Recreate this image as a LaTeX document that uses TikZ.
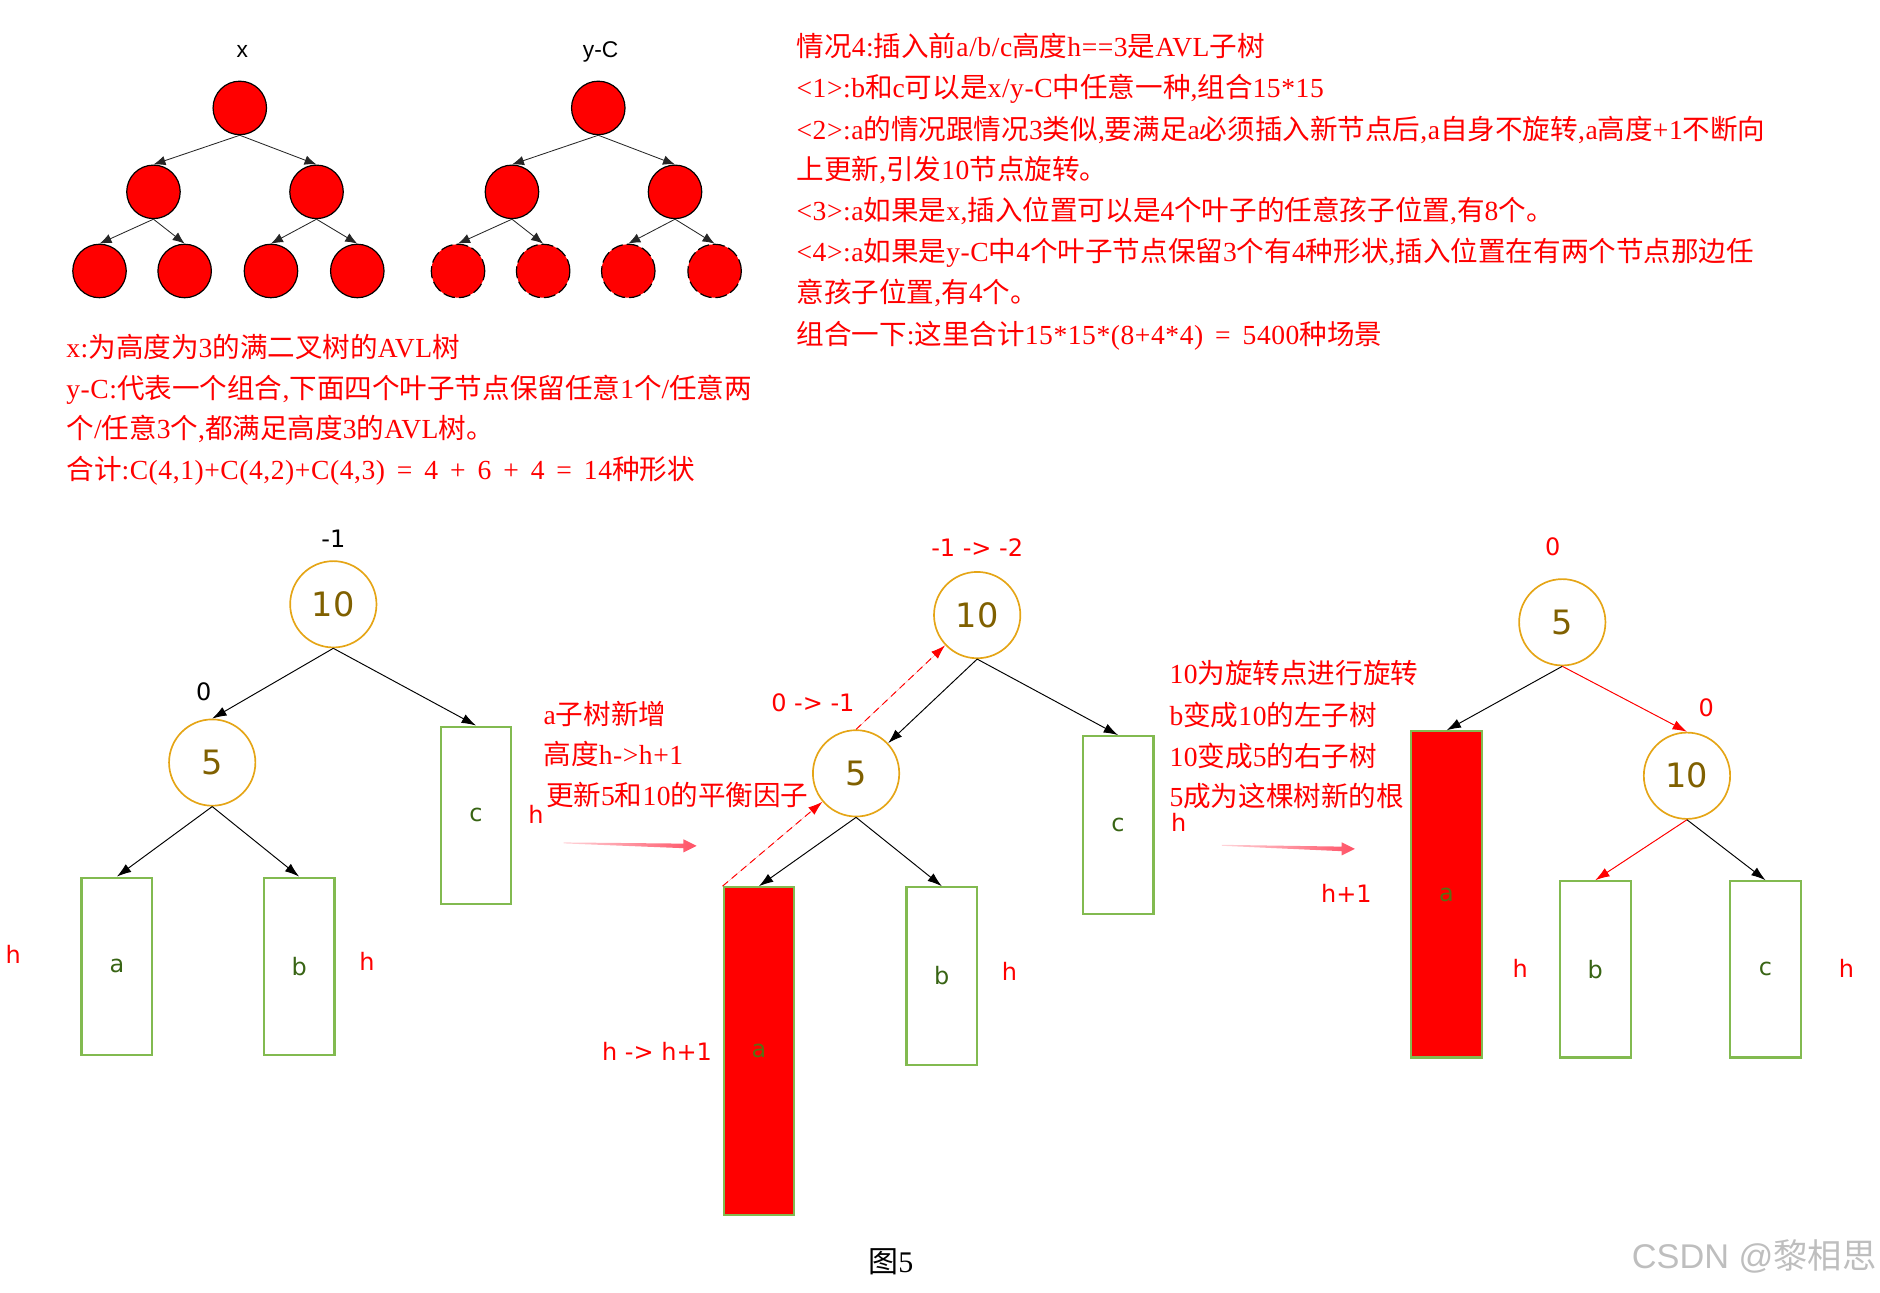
\documentclass[tikz,border=0pt]{standalone}
\usepackage{fontspec}
\setmainfont{Liberation Serif}[WordSpace=1.6, LetterSpace=2]
\setsansfont{DejaVu Sans}
\newfontfamily\cjk{Noto Sans CJK SC}
\newfontfamily\arialf{Liberation Sans}
\usetikzlibrary{arrows.meta,calc}
% automatic switch between Latin and CJK fonts
\newcount\cjkcnt
\newXeTeXintercharclass\CJKcls
\cjkcnt="4E00
\loop
  \XeTeXcharclass\cjkcnt=\CJKcls
  \advance\cjkcnt by 1
\ifnum\cjkcnt<"A000 \repeat
\cjkcnt="3000
\loop
  \XeTeXcharclass\cjkcnt=\CJKcls
  \advance\cjkcnt by 1
\ifnum\cjkcnt<"3040 \repeat
\cjkcnt="FF00
\loop
  \XeTeXcharclass\cjkcnt=\CJKcls
  \advance\cjkcnt by 1
\ifnum\cjkcnt<"FFF0 \repeat
\XeTeXinterchartoks 0 \CJKcls = {\cjk}
\XeTeXinterchartoks 4095 \CJKcls = {\cjk}
\XeTeXinterchartoks \CJKcls 0 = {\rmfamily}
\XeTeXinterchartokenstate=1

\definecolor{nodeorange}{RGB}{229,165,22}
\definecolor{numbrown}{RGB}{128,96,0}
\definecolor{boxgreen}{RGB}{130,186,80}
\definecolor{labgreen}{RGB}{56,100,20}
\definecolor{pinkc}{RGB}{255,82,102}
\definecolor{wmgray}{RGB}{190,190,190}

\tikzset{
  tn/.style={circle, draw=black, fill=red, minimum size=22.3pt, inner sep=0pt, line width=0.5pt},
  tnd/.style={tn, dash pattern=on 5pt off 1.6pt},
  tarr/.style={-{Latex[length=5pt,width=4pt]}, line width=0.35pt, draw=black!85},
  toplbl/.style={font=\arialf\fontsize{9.5}{10}\selectfont, inner sep=0pt},
  avl/.style={circle, draw=nodeorange, line width=0.7pt, minimum size=36pt, inner sep=0pt,
              font=\sffamily\fontsize{14}{14}\selectfont, text=numbrown},
  sub/.style={rectangle, draw=boxgreen, line width=0.9pt, minimum width=29.5pt, inner sep=0pt,
              font=\sffamily\fontsize{10}{10}\selectfont, text=labgreen},
  subred/.style={sub, fill=red, text={rgb,255:red,90;green,110;blue,20}},
  lbl/.style={font=\sffamily\fontsize{10}{12}\selectfont, inner sep=0pt},
  redlbl/.style={lbl, text=red},
  note/.style={anchor=base west, inner sep=0pt, text=red, font=\rmfamily\fontsize{11.5}{13}\selectfont},
  barr/.style={-{Latex[length=6pt,width=4pt]}, line width=0.4pt, draw=black},
  rarr/.style={-{Latex[length=6pt,width=4pt]}, line width=0.4pt, draw=red, fill=red},
  rdash/.style={rarr, dash pattern=on 3pt off 2pt},
}

\begin{document}
\begin{tikzpicture}[x=0.5pt,y=-0.5pt]
\useasboundingbox (0,0) rectangle (1568,1078);

% ---------- top trees ----------
\node[toplbl] (xl) at (202,43) {x};
\node[toplbl] (yl) at (501,43) {y-C};

\node[tn] (xr) at (200,90) {};
\node[tn] (xa) at (128,160) {};
\node[tn] (xb) at (264,160) {};
\node[tn] (xa1) at (83,226) {};
\node[tn] (xa2) at (154,226) {};
\node[tn] (xb1) at (226,226) {};
\node[tn] (xb2) at (298,226) {};

\node[tn] (yr) at (499,90) {};
\node[tn] (ya) at (427,160) {};
\node[tn] (yb) at (563,160) {};
\node[tnd] (ya1) at (382,226) {};
\node[tnd] (ya2) at (453,226) {};
\node[tnd] (yb1) at (524,226) {};
\node[tnd] (yb2) at (596,226) {};

\foreach \p/\c in {xr/xa, xr/xb, xa/xa1, xa/xa2, xb/xb1, xb/xb2,
                   yr/ya, yr/yb, ya/ya1, ya/ya2, yb/yb1, yb/yb2}
  \draw[tarr] (\p.south) -- (\c.north);

% ---------- notes ----------
\node[note] (l1) at (55,298) {x:为高度为3的满二叉树的AVL树};
\node[note] (l2) at (55,332) {y-C:代表一个组合,下面四个叶子节点保留任意1个/任意两};
\node[note] (l3) at (55,366) {个/任意3个,都满足高度3的AVL树。};
\node[note] (l4) at (55,400) {合计:C(4,1)+C(4,2)+C(4,3) = 4 + 6 + 4 = 14种形状};

\node[note] (r1) at (664,47) {情况4:插入前a/b/c高度h==3是AVL子树};
\node[note] (r2) at (664,81) {<1>:b和c可以是x/y-C中任意一种,组合15*15};
\node[note] (r3) at (664,116) {<2>:a的情况跟情况3类似,要满足a必须插入新节点后,a自身不旋转,a高度+1不断向};
\node[note] (r4) at (664,150) {上更新,引发10节点旋转。};
\node[note] (r5) at (664,184) {<3>:a如果是x,插入位置可以是4个叶子的任意孩子位置,有8个。};
\node[note] (r6) at (664,218) {<4>:a如果是y-C中4个叶子节点保留3个有4种形状,插入位置在有两个节点那边任};
\node[note] (r7) at (664,252) {意孩子位置,有4个。};
\node[note] (r8) at (664,287) {组合一下:这里合计15*15*(8+4*4) = 5400种场景};

% ---------- diagram 1 ----------
\node[lbl] (d1bf10) at (278,449) {-1};
\node[avl] (d1n10) at (278,504) {10};
\node[lbl] (d1bf5) at (170,577) {0};
\node[avl] (d1n5) at (177,636) {5};
\node[sub, minimum height=74pt] (d1c) at (397,680) {c};
\node[sub, minimum height=74pt] (d1a) at (97.5,806) {a};
\node[sub, minimum height=74pt] (d1b) at (249.5,806) {b};
\node[redlbl] (d1ha) at (11,796) {h};
\node[redlbl] (d1hb) at (306,802) {h};
\node[redlbl] (d1hc) at (447,679) {h};
\draw[barr] (d1n10.south) -- (d1n5.north);
\draw[barr] (d1n10.south) -- (d1c.north);
\draw[barr] (d1n5.south) -- (d1a.north);
\draw[barr] (d1n5.south) -- (d1b.north);

\node[note] (m1) at (453,604) {a子树新增};
\node[note] (m2) at (453,638) {高度h->h+1};
\node[note] (m3) at (455,672) {更新5和10的平衡因子};

% pink arrow 1
\coordinate (pa1t) at (470,703);
\coordinate (pa1h) at (581,705.5);
\shade[left color=pinkc!25, right color=pinkc]
  ($(pa1t)+(0,-0.4)$) -- ($(pa1h)+(-11,-1.9)$) -- ($(pa1h)+(-11,-5.5)$) -- (pa1h)
  -- ($(pa1h)+(-11,5.5)$) -- ($(pa1h)+(-11,1.9)$) -- ($(pa1t)+(0,0.4)$) -- cycle;

% ---------- diagram 2 ----------
\node[redlbl] (d2bf10) at (815,457) {-1 -> -2};
\node[avl] (d2n10) at (815,513) {10};
\node[redlbl] (d2bf5) at (678,586) {0 -> -1};
\node[avl] (d2n5) at (714,645) {5};
\node[sub, minimum height=74pt] (d2c) at (932.5,688) {c};
\node[subred, minimum height=136.5pt] (d2a) at (633,876.5) {a};
\node[sub, minimum height=74pt] (d2b) at (785.5,814) {b};
\node[redlbl] (d2hc) at (983,686) {h};
\node[redlbl] (d2hb) at (842,810) {h};
\node[redlbl] (d2ha) at (548,877) {h -> h+1};
\draw[barr] (d2n10.south) -- (d2n5);
\draw[barr] (d2n10.south) -- (d2c.north);
\draw[barr] (d2n5.south) -- (d2a.north);
\draw[barr] (d2n5.south) -- (d2b.north);
\draw[rdash] (d2a.north west) -- (d2n5);
\draw[rdash] (d2n5.north) -- (d2n10);

\node[note] (k1) at (975,570) {10为旋转点进行旋转};
\node[note] (k2) at (975,605) {b变成10的左子树};
\node[note] (k3) at (975,639) {10变成5的右子树};
\node[note] (k4) at (975,673) {5成为这棵树新的根};

% pink arrow 2
\coordinate (pa2t) at (1019,705);
\coordinate (pa2h) at (1130,708);
\shade[left color=pinkc!25, right color=pinkc]
  ($(pa2t)+(0,-0.4)$) -- ($(pa2h)+(-11,-1.9)$) -- ($(pa2h)+(-11,-5.5)$) -- (pa2h)
  -- ($(pa2h)+(-11,5.5)$) -- ($(pa2h)+(-11,1.9)$) -- ($(pa2t)+(0,0.4)$) -- cycle;

% ---------- diagram 3 ----------
\node[redlbl] (d3bf5) at (1295,456) {0};
\node[avl] (d3n5) at (1303,519) {5};
\node[redlbl] (d3bf10) at (1423,590) {0};
\node[avl] (d3n10) at (1407,647) {10};
\node[subred, minimum height=136pt] (d3a) at (1206.5,746) {a};
\node[sub, minimum height=73.5pt] (d3b) at (1330.5,808.5) {b};
\node[sub, minimum height=73.5pt] (d3c) at (1472.5,808.5) {c};
\node[redlbl] (d3ha) at (1123,745) {h+1};
\node[redlbl] (d3hb) at (1268,808) {h};
\node[redlbl] (d3hc) at (1540,808) {h};
\draw[barr] (d3n5.south) -- (d3a.north);
\draw[rarr] (d3n5.south) -- (d3n10.north);
\draw[rarr] (d3n10.south) -- (d3b.north);
\draw[barr] (d3n10.south) -- (d3c.north);

% ---------- caption & watermark ----------
\node[inner sep=0pt, font=\rmfamily\fontsize{12.5}{13}\selectfont] (cap) at (743,1052) {图5};
\node[inner sep=0pt, text=wmgray, font=\arialf\fontsize{14.3}{15}\selectfont] (wm) at (1463,1048) {CSDN @黎相思};
\end{tikzpicture}
\end{document}
